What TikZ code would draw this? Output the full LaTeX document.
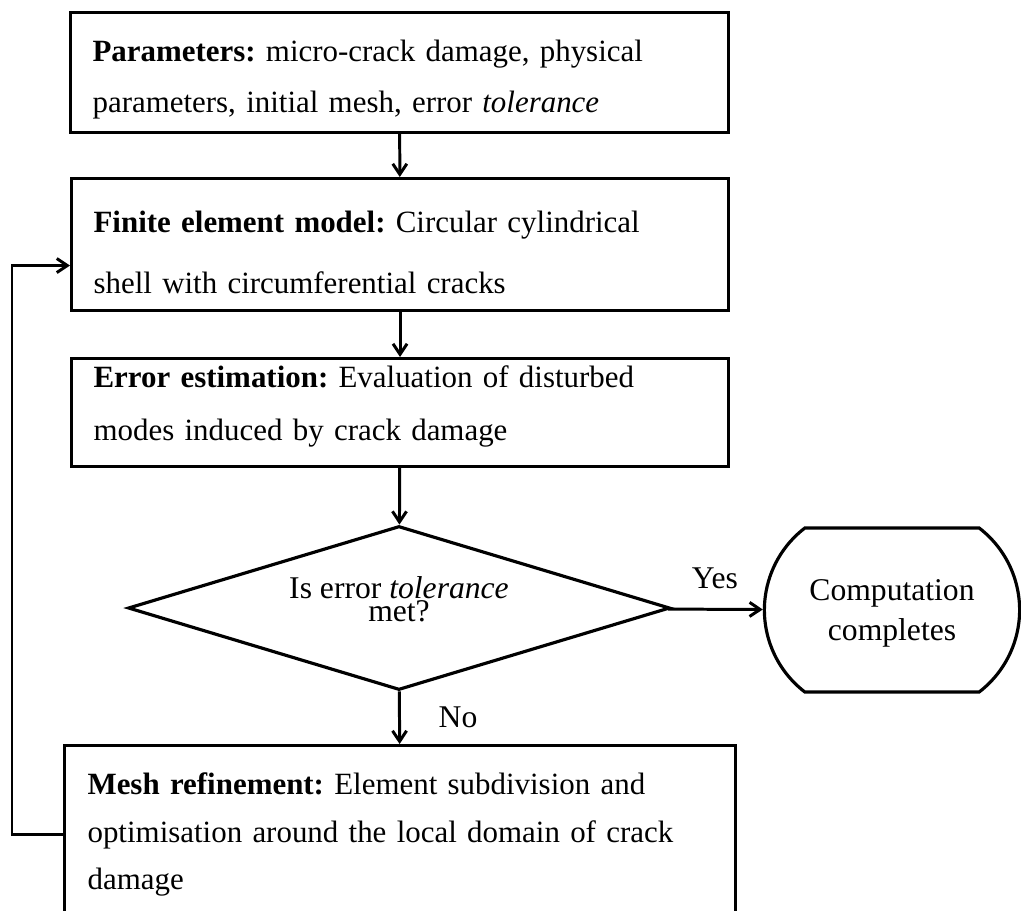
\documentclass[tikz,border=0pt]{standalone}
\usepackage{fontspec}
\setmainfont{Liberation Serif}
\frenchspacing
\usetikzlibrary{shapes.geometric,shapes.misc,arrows.meta}

\begin{document}
\begin{tikzpicture}[x=0.02cm,y=-0.02cm,
	box/.style={draw,line width=1.8pt,inner xsep=0.44cm,inner ysep=0pt,align=left,anchor=north west},
	flow/.style={line width=1.7pt,-{Straight Barb[length=6pt,width=8pt]}},
	lbl/.style={font=\fontsize{18}{20}\selectfont}]
	\useasboundingbox (0,0) rectangle (1021,910);
	\clip (0,0) rectangle (1021,910);
	\node [box,text width=12.28cm,text height=27.9pt,text depth=40.4pt,font=\fontsize{17.6}{29}\selectfont] (params) at (69,11)
		{\textbf{Parameters:} micro-crack damage, physical\\parameters, initial mesh, error \textit{tolerance}};
	\node [box,text width=12.26cm,text height=30.7pt,text depth=44.4pt,font=\fontsize{17.6}{34.7}\selectfont] (model) at (70,177)
		{\textbf{Finite element model:} Circular cylindrical\\shell with circumferential cracks};
	\node [box,text width=12.26cm,text height=16.5pt,text depth=45pt,font=\fontsize{17.6}{30}\selectfont] (estim) at (70,357)
		{\textbf{Error estimation:} Evaluation of disturbed\\modes induced by crack damage};
	\node [draw,diamond,shape aspect=3.3,line width=1.8pt,inner sep=0pt,minimum width=10.84cm,minimum height=3.28cm,
		align=center,text height=17.9pt,text depth=2pt,font=\fontsize{18}{11}\selectfont] (check) at (399,608)
		{Is error \textit{tolerance}\\met?};
	\node [draw,rounded rectangle,rounded rectangle arc length=105,line width=1.8pt,minimum width=5.34cm,
		minimum height=3.28cm,align=center,text depth=0pt,font=\fontsize{18}{23}\selectfont] (done) at (892,610)
		{Computation\\completes};
	\node [box,inner xsep=0.46cm,text width=12.5cm,text height=27.9pt,text depth=73.4pt,font=\fontsize{17.6}{27}\selectfont] (mesh) at (63,744)
		{\textbf{Mesh refinement:} Element subdivision and\\optimisation around the local domain of crack\\damage};
	\coordinate (back) at (12,833);
	\draw [flow] (params) -- (model);
	\draw [flow] (model) -- (estim);
	\draw [flow] (estim) -- (check);
	\draw [flow] (check) -- (done);
	\draw [flow] (check) -- (mesh);
	\draw [flow] (mesh.west) -| (back) |- ([yshift=-0.42cm]model.west);
	\node [lbl] (yes) at (715,578) {Yes};
	\node [lbl] (no) at (458,717) {No};
\end{tikzpicture}
\end{document}
